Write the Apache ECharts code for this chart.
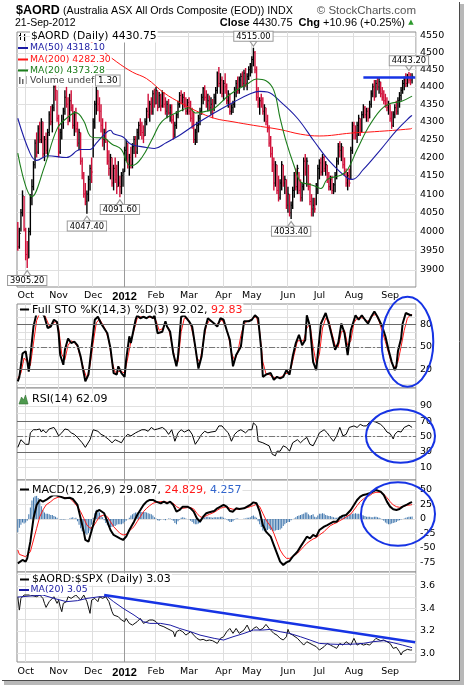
<!DOCTYPE html>
<html><head><meta charset="utf-8">
<script src="https://cdn.jsdelivr.net/npm/echarts@6/dist/echarts.min.js"></script>
<style>html,body{margin:0;padding:0;background:#fff}#c{width:464px;height:685px}</style>
</head><body><div id="c"></div>
<script>
// ---------------- DATA ----------------
const monthLabels = ['', 'Oct', 'Nov', 'Dec', '2012', 'Feb', 'Mar', 'Apr', 'May', 'Jun', 'Jul', 'Aug', 'Sep', ''];
const monthDays   = [5, 21, 22, 20, 20, 21, 22, 18, 23, 20, 22, 23, 15, 2];
const priceTicks = [3900,3950,4000,4050,4100,4150,4200,4250,4300,4350,4400,4450,4500,4550];
const stoTicks = [0,10,20,30,40,50,60,70,80,90,100];
const stoLabels = [20,50,80];
const rsiTicks = [10,20,30,40,50,60,70,80,90];
const rsiLabels = [10,30,50,70,90];
const macdTicks = [-75,-50,-25,0,25,50];
const ratioTicks = [3.0,3.1,3.2,3.3,3.4,3.5,3.6,3.7];
const ratioLabels = [3.0,3.2,3.4,3.6];

const closeP = [3960,3995,4050,4095,4005,3940,3930,4000,4090,4120,
4180,4240,4215,4280,4250,4300,4210,4250,4220,4270,
4320,4300,4340,4400,4390,4310,4215,4270,4300,4330,
4370,4350,4300,4360,4340,4290,4320,4280,4240,4270,
4190,4150,4100,4080,4100,4140,4170,4160,4300,4350,
4390,4350,4330,4290,4250,4270,4250,4190,4170,4200,
4130,4170,4140,4120,4130,4120,4150,4160,4220,4240,
4180,4200,4180,4230,4250,4215,4270,4290,4275,4270,
4260,4300,4330,4320,4350,4330,4380,4350,4390,4340,
4375,4345,4380,4350,4330,4350,4325,4340,4305,4265,
4290,4320,4350,4375,4360,4370,4350,4330,4355,4330,
4310,4290,4250,4270,4290,4310,4330,4370,4395,4370,
4350,4360,4340,4350,4325,4370,4390,4440,4410,4420,
4380,4410,4400,4360,4380,4330,4340,4350,4390,4410,
4390,4420,4430,4410,4440,4410,4430,4450,4460,4480,
4500,4450,4370,4350,4360,4350,4330,4340,4300,4280,
4240,4210,4180,4130,4180,4110,4090,4130,4180,4130,
4140,4070,4100,4050,4070,4110,4150,4120,4170,4110,
4090,4120,4190,4160,4190,4120,4080,4060,4070,4060,
4120,4170,4185,4160,4200,4170,4180,4140,4120,4140,
4110,4125,4150,4190,4230,4220,4230,4180,4160,4130,
4150,4130,4220,4290,4270,4260,4290,4310,4270,4320,
4340,4320,4330,4310,4350,4380,4400,4370,4410,4400,
4415,4380,4370,4360,4350,4340,4350,4310,4290,4320,
4340,4330,4360,4375,4390,4410,4420,4410,4430,4420,
4419.79,4430.75];
const highP = [4025,4010,4060,4110,4095,4010,3975,4010,4100,4140,
4190,4250,4270,4290,4300,4310,4300,4260,4270,4280,
4330,4345,4350,4430,4440,4390,4320,4280,4320,4340,
4390,4400,4370,4380,4390,4350,4330,4340,4300,4280,
4270,4200,4160,4130,4110,4150,4180,4200,4310,4360,
4400,4390,4370,4350,4310,4280,4300,4250,4220,4210,
4200,4180,4200,4180,4190,4150,4160,4170,4230,4250,
4240,4210,4230,4240,4260,4260,4280,4300,4310,4300,
4290,4310,4340,4380,4360,4370,4390,4395,4400,4390,
4385,4380,4390,4385,4370,4360,4365,4350,4350,4320,
4300,4330,4360,4385,4390,4380,4385,4370,4365,4370,
4360,4340,4330,4280,4300,4320,4340,4380,4400,4405,
4390,4380,4375,4370,4365,4380,4400,4445,4458,4440,
4430,4420,4440,4410,4390,4380,4350,4360,4400,4420,
4430,4430,4440,4445,4450,4455,4440,4460,4470,4490,
4515,4505,4460,4400,4370,4380,4370,4350,4340,4320,
4290,4260,4230,4200,4190,4180,4150,4140,4190,4180,
4150,4140,4120,4100,4080,4120,4160,4170,4180,4160,
4140,4130,4200,4210,4200,4180,4130,4100,4090,4090,
4130,4180,4195,4200,4210,4205,4190,4180,4160,4150,
4150,4130,4160,4200,4240,4245,4240,4230,4200,4170,
4160,4170,4230,4300,4300,4290,4300,4320,4310,4330,
4350,4345,4340,4340,4360,4390,4410,4420,4420,4428,
4425,4415,4400,4390,4380,4370,4360,4350,4330,4330,
4350,4360,4370,4385,4400,4420,4430,4440,4438,4443.2,
4440,4440];
const lowP = [3950,3955,4000,4040,4000,3925,3905.2,3930,3990,4070,
4110,4170,4200,4210,4240,4240,4200,4190,4210,4200,
4260,4290,4270,4330,4360,4300,4200,4210,4250,4280,
4320,4340,4290,4300,4330,4280,4260,4270,4230,4220,
4180,4140,4090,4070,4047.4,4080,4110,4130,4200,4280,
4320,4330,4300,4270,4230,4220,4240,4180,4150,4140,
4120,4110,4130,4100,4120,4091.6,4100,4120,4160,4190,
4170,4150,4170,4170,4210,4200,4210,4250,4260,4250,
4240,4260,4290,4310,4300,4320,4320,4340,4350,4330,
4340,4330,4340,4340,4320,4310,4320,4300,4295,4250,
4255,4280,4310,4340,4350,4330,4340,4320,4320,4320,
4300,4280,4240,4235,4240,4270,4290,4320,4350,4360,
4340,4330,4330,4320,4310,4330,4350,4380,4400,4380,
4370,4360,4380,4350,4340,4320,4320,4325,4340,4370,
4380,4380,4400,4400,4390,4400,4390,4420,4430,4440,
4460,4440,4360,4340,4320,4340,4320,4300,4290,4270,
4230,4200,4160,4110,4120,4100,4080,4085,4110,4120,
4100,4060,4050,4040,4033.4,4060,4090,4110,4100,4100,
4080,4080,4110,4150,4120,4110,4070,4040,4040,4050,
4070,4100,4140,4150,4150,4160,4150,4130,4110,4110,
4100,4100,4105,4140,4180,4200,4190,4170,4150,4120,
4110,4120,4140,4210,4250,4250,4240,4260,4260,4270,
4310,4310,4300,4300,4310,4340,4370,4360,4370,4390,
4380,4370,4360,4350,4340,4330,4320,4300,4280,4285,
4310,4320,4320,4340,4360,4380,4390,4400,4400,4410,
4405,4410];

// overlays read at sampled days: [dayIndex, value]
const ma50 = [[0,4310],[8,4210],[12,4192],[19,4205],[31,4200],[40,4222],[46,4222],[50,4240],[55,4264],[59,4276],[61,4266],[67,4257],[72,4237],[82,4228],[87,4225],[94,4240],[104,4265],[114,4295],[125,4325],[137,4355],[148,4380],[154,4387],[159,4385],[167,4358],[178,4310],[189,4243],[199,4187],[210,4143],[213,4140],[220,4167],[231,4222],[241,4275],[250,4315],[251,4318.10]];
const ma200 = [[36,4572],[40,4556],[52,4513],[63,4473],[73,4443],[82,4424],[93,4383],[104,4353],[114,4330],[125,4310],[137,4300],[150,4290],[167,4278],[180,4265],[192,4260],[212,4268],[227,4272],[250,4280],[251,4282.30]];
const ma20 = [[0,4212],[9,4093],[17,4175],[25,4280],[31,4310],[37,4326],[42,4302],[46,4260],[50,4255],[54,4255],[60,4237],[66,4222],[70,4182],[73,4178],[79,4200],[86,4255],[92,4302],[103,4330],[109,4340],[113,4325],[120,4330],[125,4338],[135,4378],[146,4408],[152,4423],[158,4418],[163,4390],[167,4310],[171,4242],[176,4176],[180,4133],[184,4128],[189,4122],[193,4115],[197,4140],[206,4152],[210,4167],[216,4222],[223,4283],[231,4334],[237,4352],[244,4358],[251,4373.28]];

const stoK = [[0,4],[1,10],[3,41],[5,44],[6,32],[7,17],[8,37],[10,77],[12,95],[13,96],[15,97],[16,96],[17,90],[19,75],[21,77],[23,86],[25,83],[26,68],[27,39],[29,26],[30,46],[32,61],[34,55],[36,57],[38,52],[40,37],[42,15],[43,4],[45,13],[47,50],[49,86],[51,90],[53,81],[57,68],[59,48],[61,15],[63,13],[64,24],[66,15],[68,10],[69,33],[71,64],[72,55],[75,86],[76,92],[78,88],[80,90],[82,88],[84,91],[86,88],[87,92],[89,68],[92,70],[94,84],[95,77],[97,70],[99,41],[101,24],[102,37],[104,90],[106,92],[109,84],[111,77],[113,50],[115,21],[117,37],[119,72],[121,88],[125,81],[127,77],[129,88],[131,86],[133,72],[135,59],[137,24],[139,39],[142,50],[144,84],[147,84],[149,86],[151,92],[153,88],[155,46],[156,10],[158,13],[161,15],[163,6],[165,10],[167,8],[169,10],[171,19],[173,13],[175,37],[177,55],[179,66],[181,52],[183,59],[184,92],[186,77],[188,30],[190,19],[191,41],[193,81],[196,95],[198,81],[200,64],[202,46],[204,55],[206,81],[208,68],[210,39],[212,72],[215,92],[217,86],[219,92],[221,86],[223,81],[225,90],[227,97],[229,90],[232,77],[234,64],[236,46],[238,30],[240,19],[241,24],[242,44],[244,61],[245,81],[247,95],[250,92],[251,92.02]];
const stoD = [[0,8],[2,15],[4,35],[6,30],[8,25],[10,55],[12,85],[14,95],[16,97],[18,88],[20,78],[22,80],[24,84],[26,75],[28,40],[30,33],[32,52],[34,58],[36,56],[38,50],[40,35],[42,20],[44,8],[46,25],[48,55],[50,82],[52,87],[54,80],[56,72],[58,58],[60,30],[62,16],[64,17],[66,17],[68,15],[70,35],[72,57],[74,72],[76,88],[78,90],[80,89],[82,89],[84,89],[86,89],[88,85],[90,72],[92,74],[94,80],[96,75],[98,55],[100,33],[102,30],[104,70],[106,88],[108,88],[110,80],[112,62],[114,35],[116,30],[118,55],[120,78],[122,85],[124,83],[126,79],[128,82],[130,86],[132,78],[134,66],[136,42],[138,32],[140,42],[142,65],[144,80],[146,84],[148,85],[150,89],[152,90],[154,70],[156,30],[158,14],[160,13],[162,10],[164,9],[166,9],[168,10],[170,14],[172,15],[174,22],[176,40],[178,58],[180,58],[182,58],[184,75],[186,80],[188,50],[190,28],[192,40],[194,75],[196,88],[198,85],[200,68],[202,52],[204,50],[206,70],[208,72],[210,52],[212,58],[214,82],[216,88],[218,89],[220,88],[222,84],[224,85],[226,92],[228,93],[230,84],[232,70],[234,57],[236,42],[238,28],[240,22],[242,30],[244,50],[246,72],[248,88],[250,92.5],[251,92.83]];

const rsi = [[0,36],[1,34],[2,46],[3,44],[5,40],[7,40],[8,55],[10,59],[12,59],[14,60],[15,56],[16,59],[18,55],[20,60],[23,62],[24,59],[26,51],[28,55],[30,60],[32,59],[34,55],[36,53],[38,49],[41,42],[43,36],[44,34],[46,46],[48,59],[49,60],[51,57],[53,53],[55,51],[58,46],[60,42],[62,46],[64,44],[66,42],[68,49],[70,53],[72,51],[75,55],[77,57],[79,59],[81,59],[83,57],[85,62],[87,59],[89,60],[92,62],[94,59],[96,53],[98,59],[100,44],[102,55],[104,59],[106,56],[109,59],[111,53],[113,40],[115,46],[117,53],[119,57],[121,55],[123,56],[126,57],[128,64],[130,64],[132,59],[134,55],[136,44],[138,53],[140,57],[142,59],[145,55],[147,59],[149,59],[150,68],[152,64],[153,44],[154,42],[156,42],[158,40],[160,38],[162,27],[164,25],[165,31],[167,31],[169,38],[171,36],[173,31],[175,42],[178,46],[180,42],[182,46],[184,49],[186,40],[188,38],[190,46],[192,55],[195,59],[197,55],[199,49],[201,44],[203,51],[205,62],[207,51],[209,53],[211,62],[214,64],[216,62],[218,66],[220,64],[222,64],[224,69],[226,70],[228,69],[231,66],[233,62],[235,56],[237,54],[239,47],[240,53],[242,57],[244,56],[246,62],[249,65],[251,62.09]];

const macd = [[0,-76.5],[1,-74.8],[3,-70.7],[5,-73.6],[6,-67.9],[8,-39.1],[10,1.2],[12,24.2],[14,32.8],[16,29.9],[18,32.8],[21,38.5],[23,41.4],[25,40.3],[27,38.5],[30,35.7],[33,36.8],[35,34.5],[38,24.2],[40,1.2],[42,-21.9],[43,-36.2],[45,-39.1],[46,-36.2],[48,-10.4],[50,12.6],[52,15.5],[55,9.8],[57,-4.6],[59,-19],[61,-27.6],[63,-30.5],[65,-33.4],[67,-36.2],[69,-30.5],[71,-19],[74,-4.6],[76,6.9],[78,15.5],[80,24.2],[82,29.9],[84,32.8],[86,32.8],[88,29.9],[91,27],[93,29.9],[95,27],[97,29.9],[99,24.2],[101,12.6],[103,15.5],[105,21.3],[108,21.3],[110,18.4],[112,12.6],[114,1.2],[116,-4.6],[118,4],[120,9.8],[122,11.5],[125,13.8],[127,18.4],[129,21.3],[131,24.2],[133,21.3],[135,13.8],[137,12.6],[139,18.4],[141,17.2],[144,18.4],[146,21.3],[148,24.2],[150,28.7],[152,27],[154,12.6],[156,-10.4],[158,-21.9],[161,-30.5],[163,-44.9],[165,-59.2],[167,-73.6],[169,-79.4],[171,-74.8],[173,-72.5],[175,-65],[178,-56.4],[180,-47.7],[182,-39.1],[184,-30.5],[186,-33.4],[188,-27.6],[190,-30.5],[192,-19],[195,-13.2],[197,-10.4],[199,-7.5],[201,-4.6],[203,-4.6],[205,2.3],[207,5.8],[209,6.9],[212,15.5],[214,24.2],[216,32.8],[218,38.5],[220,41.4],[222,42.6],[224,44.3],[226,47.2],[228,50],[231,47.2],[233,41.4],[235,29.9],[237,21.3],[239,16.7],[241,15.5],[243,17.2],[245,21.3],[248,25.3],[250,28.2],[251,29.087]];
const macdSignal = [[0,-53.5],[1,-61],[5,-65],[8,-56.4],[10,-36.2],[12,-16.1],[14,4],[16,15.5],[18,24.2],[21,29.9],[23,34.5],[25,36.8],[27,38.5],[29,36.8],[31,36.8],[33,35.7],[35,31],[38,21.3],[40,12.6],[42,1.2],[44,-10.4],[46,-16.1],[48,-13.2],[50,-4.6],[52,4],[55,6.9],[57,4],[59,-4.6],[61,-13.2],[63,-19],[65,-24.7],[67,-27.6],[69,-26.5],[71,-20.7],[74,-13.2],[76,-4.6],[78,4],[80,12.6],[82,18.4],[84,23],[86,27],[88,28.8],[91,29.9],[93,29.9],[95,28.8],[97,28.2],[99,27],[101,21.3],[103,18.4],[105,18.4],[108,19.6],[110,19.6],[112,17.2],[114,9.8],[116,4],[118,2.3],[120,5.8],[122,8],[125,11.5],[127,15],[129,18.4],[131,20.1],[133,20.7],[135,18.4],[137,16.7],[139,16.7],[141,17.2],[144,18.4],[146,19.6],[148,21.3],[150,23],[152,25.3],[154,21.3],[156,9.8],[158,-1.7],[161,-13.2],[163,-24.7],[165,-39.1],[167,-53.5],[169,-62.1],[171,-67.9],[173,-67.9],[175,-65],[178,-59.2],[180,-53.5],[182,-47.7],[184,-42],[186,-38],[188,-34.5],[190,-32.2],[192,-27.6],[195,-21.9],[197,-16.1],[199,-11.5],[201,-8.6],[203,-6.3],[205,-2.9],[207,0],[209,3.5],[212,8.6],[214,15.5],[216,23],[218,29.9],[220,34.5],[222,38.5],[224,40.3],[226,44.3],[228,46],[231,46],[233,42.6],[235,36.8],[237,29.9],[239,24.2],[241,21.3],[243,20.1],[245,21.3],[248,23.6],[250,24.2],[251,24.829]];
const macdHist = [-23,-15,-10,-6,-8,-6,-3,8,20,32,
37,39,40,36,29,22,15,11,9,9,
8,7,7,5,4,2,0,-1,-1,-1,
-1,0,0,1,2,3,1,2,-4,-10,
-16,-21,-24,-25,-27,-24,-20,-10,2,10,
16,14,11,6,3,-2,-7,-11,-14,-14,
-14,-13,-12,-10,-9,-9,-9,-8,-5,-3,
0,2,6,8,10,11,11,12,12,12,
12,12,11,10,9,8,6,3,1,-2,
-3,-1,0,-1,-2,0,1,1,-1,-3,
-7,-9,-4,-1,2,3,2,1,0,-1,
-3,-5,-8,-9,-9,-8,-7,-2,2,3,
4,4,3,3,2,3,3,3,3,4,
4,2,1,-1,-3,-5,-5,-4,-1,1,
1,0,0,0,1,1,2,2,3,5,
6,4,2,-4,-9,-14,-20,-21,-20,-19,
-17,-19,-20,-21,-20,-19,-19,-18,-16,-12,
-9,-7,-5,-5,-2,0,1,3,5,6,
7,8,9,11,11,8,6,7,8,4,
3,6,9,9,10,9,7,6,5,5,
4,3,2,2,3,5,6,6,5,4,
5,7,8,9,9,10,9,9,8,7,
6,5,4,4,4,3,3,4,4,3,
2,1,-1,-3,-6,-8,-9,-9,-8,-7,
-6,-5,-3,-2,-1,0,1,2,3,4,
4,4.257];

const ratio = [[0,3.503],[1,3.384],[2,3.488],[4,3.518],[8,3.518],[12,3.503],[14,3.518],[16,3.488],[17,3.444],[18,3.408],[20,3.459],[23,3.503],[25,3.444],[26,3.473],[27,3.414],[28,3.37],[29,3.444],[31,3.459],[32,3.503],[34,3.488],[35,3.473],[37,3.518],[40,3.473],[42,3.518],[43,3.533],[44,3.459],[45,3.444],[46,3.355],[47,3.473],[49,3.488],[51,3.459],[52,3.503],[54,3.488],[56,3.503],[58,3.459],[59,3.414],[60,3.37],[61,3.34],[62,3.355],[64,3.325],[66,3.296],[68,3.281],[69,3.31],[71,3.266],[73,3.251],[76,3.281],[78,3.31],[80,3.266],[82,3.281],[84,3.296],[86,3.296],[88,3.281],[90,3.251],[93,3.236],[95,3.221],[97,3.207],[99,3.192],[100,3.147],[101,3.192],[103,3.207],[105,3.192],[107,3.162],[110,3.192],[112,3.162],[114,3.133],[116,3.118],[118,3.124],[120,3.112],[122,3.118],[124,3.112],[127,3.088],[129,3.133],[131,3.147],[133,3.192],[135,3.221],[137,3.177],[139,3.221],[141,3.177],[144,3.207],[146,3.251],[148,3.192],[150,3.221],[152,3.236],[154,3.207],[156,3.221],[158,3.257],[160,3.221],[163,3.177],[165,3.162],[167,3.133],[169,3.118],[171,3.147],[172,3.213],[173,3.177],[175,3.162],[178,3.133],[180,3.103],[182,3.073],[184,3.103],[186,3.088],[188,3.073],[190,3.059],[192,3.029],[195,3.059],[197,3.088],[199,3.073],[201,3.059],[203,3.044],[205,3.088],[207,3.073],[209,3.103],[212,3.073],[214,3.133],[216,3.073],[218,3.088],[220,3.073],[222,3.082],[224,3.073],[226,3.103],[228,3.133],[231,3.112],[233,3.118],[235,3.103],[237,3.088],[239,3.044],[241,3.053],[243,3.014],[244,2.985],[245,3.014],[248,3.035],[250,3.029],[251,3.03]];
const ratioMA = [[0,3.50],[16,3.518],[23,3.488],[31,3.459],[38,3.468],[44,3.488],[52,3.503],[57,3.503],[61,3.459],[67,3.40],[74,3.34],[80,3.281],[84,3.266],[91,3.266],[97,3.251],[103,3.221],[110,3.192],[116,3.162],[125,3.133],[131,3.118],[137,3.147],[144,3.177],[150,3.207],[156,3.207],[161,3.213],[167,3.192],[173,3.177],[180,3.147],[186,3.118],[192,3.088],[199,3.082],[205,3.079],[214,3.082],[220,3.088],[226,3.103],[233,3.112],[239,3.094],[245,3.073],[251,3.05]];

// annotations
const highNotes = [4515.00, 4443.20];
const lowNotes = [3905.20, 4047.40, 4091.60, 4033.40];
const resistance = {from: 220, to: 253, value: 4427};
const ratioTrend = [[55, 3.518], [253, 3.098]];

// ---------------- BUILD ----------------
const FONT = '"DejaVu Sans", Verdana, sans-serif';
const AFONT = '"Liberation Sans", Arial, sans-serif';
const ln = Math.log;
const categories = [];
const monthStart = {};
monthDays.forEach((n, m) => {
  for (let d = 0; d < n; d++) {
    if (d === 0 && monthLabels[m]) monthStart[categories.length] = monthLabels[m];
    categories.push(m + '-' + d);
  }
});
const isMonth = (i) => monthStart[i] !== undefined;
const vColors = Object.keys(monthStart).map(k => monthStart[k] === '2012' ? '#9a9a9a' : '#dedede');

const bars = closeP.map((c, i) => [i, ln(i ? closeP[i - 1] : highP[0]), ln(c), ln(lowP[i]), ln(highP[i])]);
const lnPairs = (arr) => arr.map(p => [p[0], ln(p[1])]);
const last = (a) => a[a.length - 1];
const lastV = (a) => last(a)[1];

const grids = [
  {top: 32, height: 255}, {top: 304, height: 84}, {top: 388, height: 92},
  {top: 480, height: 92}, {top: 572, height: 90}
].map(g => Object.assign(g, {left: 17, right: 48, show: true, borderColor: '#8a8a8a', borderWidth: 1, backgroundColor: '#fff', containLabel: false, outerBoundsMode: 'none'}));

function xAx(gi, showLabel) {
  return {
    type: 'category', gridIndex: gi, data: categories, boundaryGap: true,
    axisLine: {show: false}, axisTick: {show: false},
    axisLabel: {
      show: showLabel, interval: (i) => isMonth(i), margin: gi === 4 ? 5 : 4,
      fontFamily: FONT, fontSize: 9.5, color: '#000',
      formatter: (v, i) => monthStart[i] === '2012' ? '{b|2012}' : (monthStart[i] || ''),
      rich: {b: {fontFamily: AFONT, fontWeight: 'bold', fontSize: 11, color: '#000'}}
    },
    splitLine: {show: true, interval: (i) => isMonth(i), lineStyle: {color: vColors, width: 1}}
  };
}
function yAx(gi, min, max, ticks, labels, fmt) {
  return {
    type: 'value', gridIndex: gi, position: 'right', min: min, max: max,
    axisLine: {show: false}, axisTick: {show: false, customValues: ticks},
    axisLabel: {customValues: labels, formatter: fmt, margin: 4, fontSize: 9.5, color: '#000', fontFamily: FONT},
    splitLine: {show: true, lineStyle: {color: '#e0e0e0', width: 1}}
  };
}
const lnMax = ln(4550) + 4 / 1518, lnMin = ln(3900) - 17 / 1518;

function lineS(gi, data, color, width, z, extra) {
  return Object.assign({type: 'line', xAxisIndex: gi, yAxisIndex: gi, data: data, symbol: 'none', silent: true,
    lineStyle: {color: color, width: width}, itemStyle: {color: color}, z: z, animation: false}, extra || {});
}
const levelLine = (vals, dashVal) => ({
  symbol: 'none', silent: true, label: {show: false},
  lineStyle: {color: '#6a6a6a', width: 1, type: 'solid'},
  data: vals.map(v => ({yAxis: v})).concat([{yAxis: dashVal, lineStyle: {type: [6, 2, 2, 2], color: '#777'}}])
});

const notePoints = [];
highNotes.forEach(v => notePoints.push({
  coord: [highP.indexOf(v), ln(v)], name: v.toFixed(2), symbol: 'triangle', symbolSize: [7, 5], symbolRotate: 180, symbolOffset: [0, -4],
  label: {position: 'top', distance: 0}
}));
lowNotes.forEach(v => notePoints.push({
  coord: [lowP.indexOf(v), ln(v)], name: v.toFixed(2), symbol: 'triangle', symbolSize: [7, 5], symbolOffset: [0, 5],
  label: {position: 'bottom', distance: 0}
}));

const BLUE = '#1633e4';
const series = [
  {
    type: 'custom', xAxisIndex: 0, yAxisIndex: 0, data: bars, clip: true, z: 4, silent: true, animation: false,
    encode: {x: 0, y: [1, 2, 3, 4]},
    renderItem: (params, api) => {
      const i = api.value(0);
      const pH = api.coord([i, api.value(4)]);
      const pL = api.coord([i, api.value(3)]);
      const pC = api.coord([i, api.value(2)]);
      const up = api.value(2) >= api.value(1);
      const col = up ? '#000' : '#d0103a';
      const x = pH[0];
      return {type: 'group', children: [
        {type: 'line', shape: {x1: x, y1: pH[1], x2: x, y2: pL[1]}, style: {stroke: col, lineWidth: 1.4}},
        {type: 'line', shape: {x1: x, y1: pC[1], x2: x + 1.3, y2: pC[1]}, style: {stroke: col, lineWidth: 1}}
      ]};
    }
  },
  lineS(0, lnPairs(ma200), '#ff1414', 1, 5, {smooth: 0.4}),
  lineS(0, lnPairs(ma50), '#1c1ca4', 1.1, 5, {smooth: 0.4,
    markPoint: {
      silent: true, itemStyle: {color: '#fff', borderColor: '#9a9a9a', borderWidth: 1},
      label: {show: true, formatter: '{b}', fontFamily: FONT, fontSize: 8.3, color: '#000', backgroundColor: '#fff',
        borderColor: '#9a9a9a', borderWidth: 1, padding: [1, 2, 0, 2]},
      data: notePoints
    },
    markLine: {
      symbol: 'none', silent: true, label: {show: false}, lineStyle: {color: BLUE, width: 2.5, type: 'solid'},
      data: [[{coord: [resistance.from, ln(resistance.value)]}, {coord: [resistance.to, ln(resistance.value)]}]]
    }
  }),
  lineS(0, lnPairs(ma20), '#1b7d1b', 1.1, 5, {smooth: 0.4}),
  lineS(1, stoD, '#ff1a1a', 1, 3, {markLine: levelLine([20, 80], 50)}),
  lineS(1, stoK, '#000', 2, 4),
  lineS(2, rsi, '#000', 1, 4, {markLine: levelLine([30, 70], 50)}),
  {type: 'bar', xAxisIndex: 3, yAxisIndex: 3, data: macdHist, barWidth: 1, silent: true, animation: false, z: 2,
    itemStyle: {color: '#3f76ad'}},
  lineS(3, macdSignal, '#ff1a1a', 1, 4),
  lineS(3, macd, '#000', 2, 5),
  lineS(4, ratio, '#111', 1, 3),
  lineS(4, ratioMA, '#1c1ca4', 1, 4, {
    markLine: {
      symbol: 'none', silent: true, label: {show: false}, lineStyle: {color: BLUE, width: 2.5, type: 'solid'},
      data: [[{coord: ratioTrend[0]}, {coord: ratioTrend[1]}]]
    }
  })
];

// ---------------- texts / decorations ----------------
const lastClose = last(closeP), prevClose = closeP[closeP.length - 2];
const chg = lastClose - prevClose;
function txt(x, y, text, font, fill, extra) {
  return {type: 'text', x: x, y: y, z: 100, silent: true,
    style: Object.assign({text: text, font: font, fill: fill || '#000', verticalAlign: 'middle'}, extra || {})};
}
function dash(x1, x2, y, color, w) {
  return {type: 'line', z: 100, silent: true, shape: {x1: x1, y1: y, x2: x2, y2: y}, style: {stroke: color, lineWidth: w || 2}};
}
const wbg = {backgroundColor: '#fff', padding: [1, 1, 0, 1]};
const F11 = '11px ' + FONT, F9 = '9.3px ' + FONT;
const elements = [
  txt(16, 11, '$AORD', 'bold 12.5px ' + AFONT),
  txt(63, 11, '(Australia ASX All Ords Composite (EOD)) INDX', '10.7px ' + AFONT),
  txt(416, 11, '\u00a9 StockCharts.com', '11.5px ' + AFONT, '#555', {align: 'right'}),
  txt(15, 23, '21-Sep-2012', '10.5px ' + AFONT),
  txt(405, 23, '{b|Close} ' + lastClose.toFixed(2) + '  {b|Chg} ' + (chg >= 0 ? '+' : '') + chg.toFixed(2) + ' (' + (chg >= 0 ? '+' : '') + (chg / prevClose * 100).toFixed(2) + '%)',
    '11px ' + AFONT, '#000', {align: 'right', rich: {b: {font: 'bold 11px ' + AFONT, fill: '#000'}}}),
  txt(411, 22, '\u25b2', '7px ' + FONT, '#2c9a2c', {align: 'center'}),
  // price legend
  {type: 'group', z: 100, silent: true, children: [
    {type: 'line', shape: {x1: 20.5, y1: 33, x2: 20.5, y2: 40}, style: {stroke: '#000', lineWidth: 1}},
    {type: 'line', shape: {x1: 24.5, y1: 34, x2: 24.5, y2: 41}, style: {stroke: '#000', lineWidth: 1}},
    {type: 'line', shape: {x1: 19, y1: 35.5, x2: 20.5, y2: 35.5}, style: {stroke: '#000', lineWidth: 1}},
    {type: 'line', shape: {x1: 24.5, y1: 38.5, x2: 26, y2: 38.5}, style: {stroke: '#000', lineWidth: 1}}
  ]},
  txt(30, 36.5, '$AORD (Daily) ' + lastClose.toFixed(2), '10.8px ' + FONT, '#000', wbg),
  dash(18, 28, 48, '#1c1ca4'), txt(29, 48, 'MA(50) ' + lastV(ma50).toFixed(2), F9, '#1c1ca4', wbg),
  dash(18, 28, 59.5, '#ff1414'), txt(29, 59.5, 'MA(200) ' + lastV(ma200).toFixed(2), F9, '#ff1414', wbg),
  dash(18, 28, 70.5, '#1b7d1b'), txt(29, 70.5, 'MA(20) ' + lastV(ma20).toFixed(2), F9, '#1b7d1b', wbg),
  {type: 'group', z: 100, silent: true, children: [
    {type: 'rect', shape: {x: 19, y: 77, width: 1.5, height: 7}, style: {fill: '#666'}},
    {type: 'rect', shape: {x: 22, y: 79, width: 1.5, height: 5}, style: {fill: '#666'}},
    {type: 'rect', shape: {x: 25, y: 76, width: 1.5, height: 8}, style: {fill: '#666'}}
  ]},
  txt(29, 80.5, 'Volume undef', F9, '#444', wbg),
  txt(96, 80.5, '1.30', '8.8px ' + FONT, '#000', {backgroundColor: '#fff', borderColor: '#9a9a9a', borderWidth: 1, padding: [1, 2, 0, 2]}),
  // STO legend
  dash(20, 29, 309.5, '#000'),
  txt(31, 309.5, '{k|Full STO %K(14,3) %D(3) ' + lastV(stoK).toFixed(2) + ', }{d|' + lastV(stoD).toFixed(2) + '}', F11, '#000',
    Object.assign({rich: {k: {font: F11, fill: '#000'}, d: {font: F11, fill: '#ff1a1a'}}}, wbg)),
  // RSI legend
  {type: 'polygon', z: 100, silent: true, shape: {points: [[19, 404], [21.5, 397], [23.5, 400], [25.5, 395], [28, 404]]}, style: {fill: '#4f9a4f', stroke: '#2f6f2f', lineWidth: 0.6}},
  txt(31, 399.5, 'RSI(14) ' + lastV(rsi).toFixed(2), F11, '#000', wbg),
  // MACD legend
  dash(20, 29, 489.5, '#000'),
  txt(31, 489.5, '{k|MACD(12,26,9) ' + lastV(macd).toFixed(3) + ', }{r|' + lastV(macdSignal).toFixed(3) + ', }{b|' + last(macdHist).toFixed(3) + '}', F11, '#000',
    Object.assign({rich: {k: {font: F11, fill: '#000'}, r: {font: F11, fill: '#ff1a1a'}, b: {font: F11, fill: '#3366cc'}}}, wbg)),
  // ratio legend
  dash(20, 29, 579.5, '#000'),
  txt(31, 579.5, '$AORD:$SPX (Daily) ' + lastV(ratio).toFixed(2), F11, '#000', wbg),
  dash(19, 29, 590, '#1c1ca4'), txt(29.5, 590, 'MA(20) ' + lastV(ratioMA).toFixed(2), F9, '#1c1ca4', wbg),
  // hand-drawn ellipses
  {type: 'ellipse', z: 110, silent: true, shape: {cx: 407.5, cy: 341.7, rx: 25.8, ry: 45}, style: {fill: null, stroke: BLUE, lineWidth: 2}},
  {type: 'ellipse', z: 110, silent: true, shape: {cx: 400.5, cy: 436, rx: 34.5, ry: 26.7}, style: {fill: null, stroke: BLUE, lineWidth: 2}},
  {type: 'ellipse', z: 110, silent: true, shape: {cx: 398, cy: 514, rx: 37, ry: 31.7}, style: {fill: null, stroke: BLUE, lineWidth: 2}},
  // frame shadow
  {type: 'line', z: 120, silent: true, shape: {x1: 459.5, y1: 2, x2: 459.5, y2: 681}, style: {stroke: '#4a4a4a', lineWidth: 1}},
  {type: 'rect', z: 120, silent: true, shape: {x: 460, y: 4, width: 4, height: 681}, style: {fill: '#b8b8b8'}},
  {type: 'line', z: 120, silent: true, shape: {x1: 2, y1: 680.5, x2: 460, y2: 680.5}, style: {stroke: '#4a4a4a', lineWidth: 1}},
  {type: 'rect', z: 120, silent: true, shape: {x: 4, y: 681, width: 460, height: 4}, style: {fill: '#b8b8b8'}}
];

const option = {
  animation: false,
  backgroundColor: '#fff',
  textStyle: {fontFamily: FONT},
  grid: grids,
  xAxis: [xAx(0, true), xAx(1, false), xAx(2, false), xAx(3, false), xAx(4, true)],
  yAxis: [
    yAx(0, lnMin, lnMax, priceTicks.map(ln), priceTicks.map(ln), v => String(Math.round(Math.exp(v)))),
    yAx(1, -4.9, 107, stoTicks, stoLabels, v => String(v)),
    yAx(2, -6.6, 113.5, rsiTicks, rsiLabels, v => String(v)),
    yAx(3, -91.4, 67.2, macdTicks, macdTicks, v => String(v)),
    yAx(4, 2.9227, 3.7227, ratioTicks, ratioLabels, v => v.toFixed(1))
  ],
  series: series,
  graphic: {elements: elements}
};
const chart = echarts.init(document.getElementById('c'), null, {renderer: 'canvas', width: 464, height: 685});
chart.setOption(option);
</script>
</body></html>
